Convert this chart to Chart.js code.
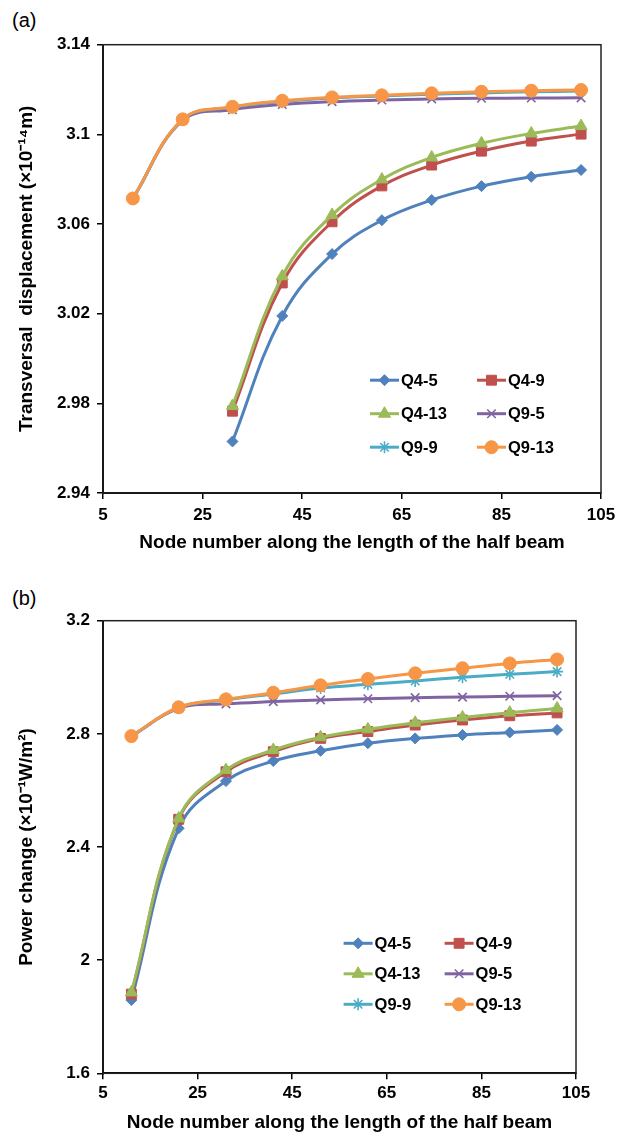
<!DOCTYPE html>
<html><head><meta charset="utf-8">
<script src="https://cdn.jsdelivr.net/npm/chart.js@4.4.1/dist/chart.umd.min.js"></script>
<style>
body{margin:0;background:#fff;width:623px;height:1136px;position:relative;overflow:hidden;font-family:"Liberation Sans",Arial,sans-serif}
canvas{position:absolute;left:0}
#ca{top:0} #cb{top:575px}
.tag{position:absolute;left:12px;font-size:20px;line-height:20px;color:#000}
</style></head><body>
<div class="tag" style="top:10px">(a)</div>
<canvas id="ca" width="623" height="575"></canvas>
<div class="tag" style="top:588px">(b)</div>
<canvas id="cb" width="623" height="561"></canvas>
<script>
const nodes = [11,21,31,41,51,61,71,81,91,101];
const seriesNames = ['Q4-5','Q4-9','Q4-13','Q9-5','Q9-9','Q9-13'];
const xTicks = [5,25,45,65,85,105];

// (a) transversal displacement (x10^-14 m)
const dispQ4_5  = [null,null,2.963,3.019,3.0466,3.0617,3.0707,3.0769,3.0811,3.0841];
const dispQ4_9  = [null,null,2.9765,3.0337,3.061,3.077,3.0863,3.0925,3.097,3.1001];
const dispQ4_13 = [null,null,2.9788,3.0367,3.064,3.0799,3.0897,3.096,3.1004,3.1037];
const dispQ9_5  = [3.0714,3.1062,3.111,3.1133,3.1146,3.1153,3.1158,3.1161,3.1162,3.1163];
const dispQ9_9  = [3.0714,3.1066,3.1121,3.1146,3.1162,3.1171,3.1179,3.1185,3.119,3.1193];
const dispQ9_13 = [3.0714,3.1067,3.1123,3.115,3.1165,3.1174,3.1183,3.119,3.1195,3.1198];
const dispTicks = [2.94,2.98,3.02,3.06,3.1,3.14];

// (b) power change (x10^-1 W/m^2)
const powQ4_5  = [1.859,2.466,2.633,2.704,2.74,2.767,2.784,2.796,2.805,2.814];
const powQ4_9  = [1.88,2.498,2.666,2.737,2.784,2.808,2.831,2.849,2.864,2.874];
const powQ4_13 = [1.886,2.501,2.672,2.743,2.788,2.816,2.839,2.858,2.875,2.89];
const powQ9_5  = [2.792,2.89,2.906,2.914,2.92,2.924,2.928,2.93,2.933,2.935];
const powQ9_9  = [2.792,2.893,2.92,2.941,2.962,2.975,2.987,3.0,3.0105,3.02];
const powQ9_13 = [2.792,2.894,2.922,2.9455,2.9715,2.994,3.014,3.032,3.049,3.063];
const powTicks = [1.6,2,2.4,2.8,3.2];

const colors = ['#4F81BD','#C0504D','#9BBB59','#8064A2','#4BACC6','#F79646'];
const shapes = ['rectRot','rect','triangle','crossRot','star','circle'];
const radii  = [5.5,7,7,6,6,6.5];
const FONT = '"Liberation Sans", Arial, sans-serif';

function makeSets(lists) {
  return lists.map((vals, i) => ({
    label: seriesNames[i],
    data: nodes.map((x, j) => ({x, y: vals[j]})).filter(p => p.y !== null),
    borderColor: colors[i], backgroundColor: colors[i],
    borderWidth: 3, tension: 0.4,
    pointStyle: shapes[i], pointRadius: radii[i],
    pointBorderWidth: (i === 3 || i === 4) ? 1.6 : 1,
    order: 6 - i
  }));
}

const framePlugin = {
  id: 'frame',
  afterDraw(chart) {
    const {ctx, chartArea: a} = chart;
    ctx.save(); ctx.strokeStyle = '#222'; ctx.lineWidth = 1.5;
    ctx.strokeRect(a.left, a.top, a.right - a.left, a.bottom - a.top);
    ctx.restore();
  }
};

const legendPlugin = {
  id: 'boxLegend',
  afterDraw(chart, args, opt) {
    const {ctx, chartArea: a} = chart;
    ctx.save();
    ctx.font = 'bold 16.5px ' + FONT; ctx.textBaseline = 'middle'; ctx.fillStyle = '#000';
    chart.data.datasets.forEach((ds, i) => {
      const x = a.left + opt.x + (i % 2) * opt.dx, y = a.top + opt.y + Math.floor(i / 2) * opt.dy;
      ctx.strokeStyle = ds.borderColor; ctx.fillStyle = ds.backgroundColor; ctx.lineWidth = 3;
      ctx.beginPath(); ctx.moveTo(x, y); ctx.lineTo(x + 29, y); ctx.stroke();
      ctx.lineWidth = ds.pointBorderWidth;
      Chart.helpers.drawPoint(ctx, {pointStyle: ds.pointStyle, radius: ds.pointRadius, rotation: 0, borderWidth: ds.pointBorderWidth}, x + 14.5, y);
      ctx.fillStyle = '#000';
      ctx.fillText(ds.label, x + 31, y + 1);
    });
    ctx.restore();
  }
};

function makeChart(id, lists, yTicks, yTitle, lay) {
  return new Chart(document.getElementById(id), {
    type: 'line',
    data: {datasets: makeSets(lists)},
    options: {
      responsive: false, animation: false, devicePixelRatio: 1,
      layout: {padding: {top: lay.top, right: lay.right, left: 0, bottom: 0}},
      plugins: {legend: {display: false}, tooltip: {enabled: false}, boxLegend: lay.legend},
      scales: {
        x: {
          type: 'linear', min: xTicks[0], max: xTicks[xTicks.length - 1],
          afterBuildTicks: s => { s.ticks = xTicks.map(v => ({value: v})); },
          afterFit: s => { s.height = lay.xh; },
          grid: {drawOnChartArea: false, color: '#000', lineWidth: 1.5, tickLength: 6},
          border: {color: '#000', width: 2},
          ticks: {color: '#000', padding: lay.xpad, maxRotation: 0, font: {family: FONT, size: 17, weight: 'bold'}},
          title: {display: true, text: 'Node number along the length of the half beam', color: '#000',
            font: {family: FONT, size: 19, weight: 'bold', lineHeight: 1.2}, padding: {top: 0, bottom: lay.xtp}}
        },
        y: {
          type: 'linear', min: yTicks[0], max: yTicks[yTicks.length - 1],
          afterBuildTicks: s => { s.ticks = yTicks.map(v => ({value: v})); },
          afterFit: s => { s.width = 103; },
          grid: {drawOnChartArea: false, color: '#000', lineWidth: 1.5, tickLength: 6},
          border: {color: '#000', width: 2},
          ticks: {color: '#000', padding: 7, font: {family: FONT, size: 17, weight: 'bold'},
            callback: v => String(Number(v.toFixed(2)))},
          title: {display: true, text: yTitle, color: '#000',
            font: {family: FONT, size: 19, weight: 'bold', lineHeight: 1.2}, padding: {top: 15.5, bottom: 0}}
        }
      }
    },
    plugins: [framePlugin, legendPlugin]
  });
}

makeChart('ca', [dispQ4_5, dispQ4_9, dispQ4_13, dispQ9_5, dispQ9_9, dispQ9_13], dispTicks,
  'Transversal  displacement (×10⁻¹⁴m)',
  {top: 44.7, right: 22, xh: 82, xpad: 6, xtp: 20.5, legend: {x: 267, y: 335.5, dx: 107, dy: 33.5}});
makeChart('cb', [powQ4_5, powQ4_9, powQ4_13, powQ9_5, powQ9_9, powQ9_13], powTicks,
  'Power change (×10⁻¹W/m²)',
  {top: 45.7, right: 47, xh: 62.7, xpad: 4, xtp: 1.6, legend: {x: 240.6, y: 322.6, dx: 101, dy: 30.5}});
</script>
</body></html>
